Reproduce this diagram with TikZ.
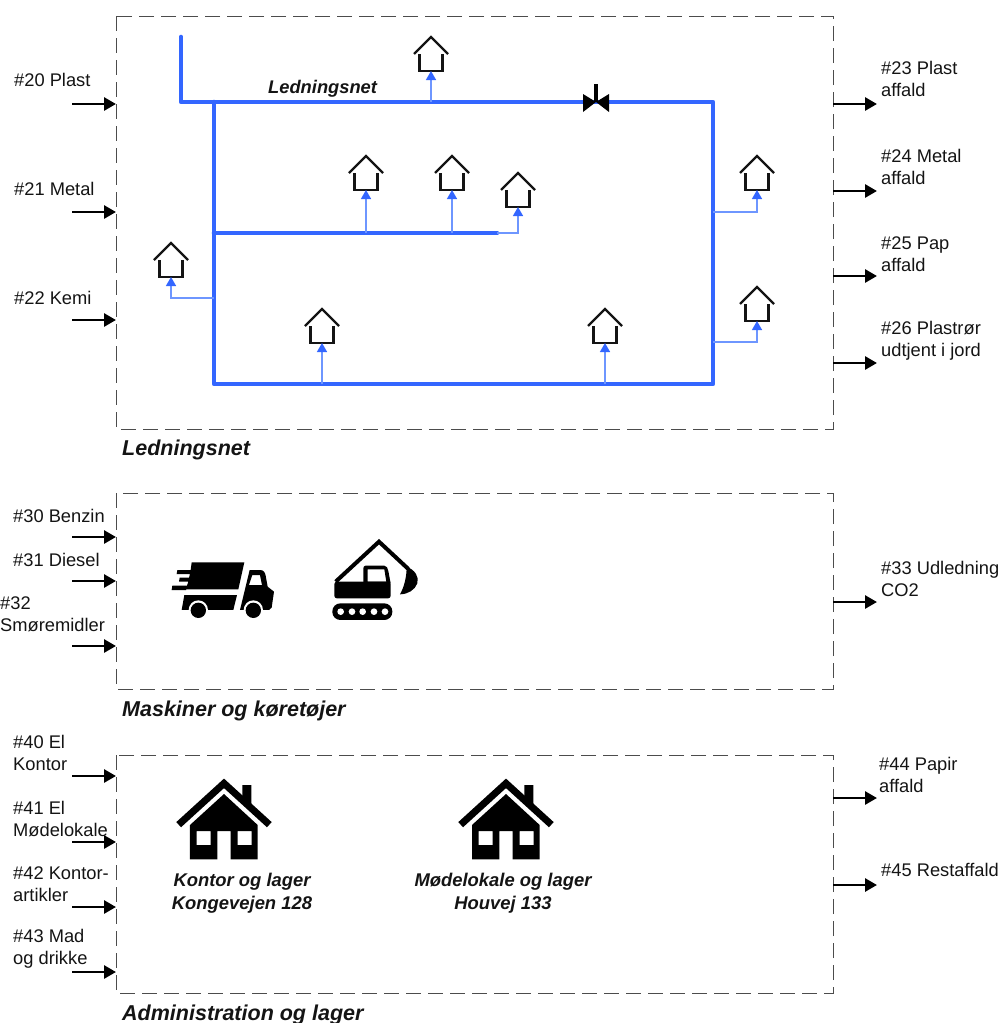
\documentclass[tikz,border=0pt]{standalone}
\usepackage{fontspec}
\setmainfont{Liberation Sans}
\usetikzlibrary{arrows.meta,calc}
\definecolor{pipeblue}{RGB}{51,102,255}
\definecolor{tapblue}{RGB}{110,150,255}
\definecolor{inkc}{RGB}{20,20,20}
\tikzset{
  pipe/.style={draw=pipeblue,line width=4.6pt,line cap=round,line join=round},
  tap/.style={draw=tapblue,line width=1.4pt,-{Triangle[length=9pt,width=10pt,color=pipeblue]}},
  flow/.style={draw=black,line width=2.8pt,-{Triangle[length=12pt,width=13pt]}},
  area/.style={draw=black!70,line width=1pt,dash pattern=on 15pt off 7pt},
  lbl/.style={anchor=west,align=left,inner sep=0pt,font=\fontsize{18.3}{22}\selectfont,text=inkc},
  title/.style={anchor=west,inner sep=0pt,font=\fontsize{21.5}{24}\selectfont\bfseries\itshape,text=inkc},
  captxt/.style={align=center,inner sep=0pt,font=\fontsize{18.4}{23}\selectfont\bfseries\itshape,text=inkc},
  hut/.style={draw=inkc,line width=2.2pt,line join=miter}
}
\newcommand{\hutat}[3]{%
  \coordinate (#1) at (#2,#3);
  \draw[hut] ($(#1)+(-11.5,-17)$) -- ($(#1)+(-11.5,0)$) -- ($(#1)+(11.5,0)$) -- ($(#1)+(11.5,-17)$);
  \draw[hut] ($(#1)+(-17,-17)$) -- ($(#1)+(0,-34)$) -- ($(#1)+(17,-17)$);
}
\newcommand{\bighouse}[1]{%
  \begin{scope}[shift={(#1,770)},x=0.3333pt,y=-0.3333pt]
    \draw[black,line width=7pt,miter limit=10] (56,164) -- (192,40) -- (328,164);
    \fill[black] (247,45) -- (274,45) -- (274,105) -- (247,80) -- cycle;
    \fill[black,even odd rule] (90,165) -- (192,72) -- (293,165) -- (293,268) -- (212,268) -- (212,183) -- (172,183) -- (172,268) -- (90,268) -- cycle
       (110,183) rectangle (152,225) (233,183) rectangle (275,225);
  \end{scope}}
\begin{document}
\begin{tikzpicture}[x=1pt,y=-1pt]
\useasboundingbox (0,0) rectangle (1003,1023);
% areas
\coordinate (A1) at (116,16); \coordinate (B1) at (833,429);
\coordinate (A2) at (116,493); \coordinate (B2) at (833,689);
\coordinate (A3) at (116,755); \coordinate (B3) at (833,993);
\draw[area] (A1) rectangle (B1);
\draw[area] (A2) rectangle (B2);
\draw[area] (A3) rectangle (B3);
% pipes
\coordinate (p0) at (181,37); \coordinate (p1) at (181,102); \coordinate (p2) at (713,102);
\coordinate (p3) at (713,384); \coordinate (p4) at (214,384); \coordinate (p5) at (214,102);
\coordinate (p6) at (214,233); \coordinate (p7) at (497,233);
\draw[pipe] (p0) -- (p1) -- (p2) -- (p3) -- (p4) -- (p5);
\draw[pipe] (p6) -- (p7);
% valve
\coordinate (v) at (596,102);
\fill[black] (583,94) -- (v) -- (583,112) -- cycle (609,94) -- (v) -- (609,112) -- cycle;
\draw[black,line width=3.6pt] (v) -- (596,84);
% houses
\hutat{h1}{431}{71}
\hutat{h2}{366}{190}
\hutat{h3}{452}{190}
\hutat{h4}{518}{207}
\hutat{h5}{757}{190}
\hutat{h6}{757}{321}
\hutat{h7}{171}{277}
\hutat{h8}{322}{343}
\hutat{h9}{605}{343}
% taps
\coordinate (t1) at (431,102); \coordinate (t2) at (366,233); \coordinate (t3) at (452,233);
\coordinate (t4) at (497,233); \coordinate (t5) at (713,212); \coordinate (t6) at (713,342);
\coordinate (t7) at (214,298); \coordinate (t8) at (322,384); \coordinate (t9) at (605,384);
\draw[tap] (t1) -- (h1);
\draw[tap] (t2) -- (h2);
\draw[tap] (t3) -- (h3);
\draw[tap] (t4) -| (h4);
\draw[tap] (t5) -| (h5);
\draw[tap] (t6) -| (h6);
\draw[tap] (t7) -| (h7);
\draw[tap] (t8) -- (h8);
\draw[tap] (t9) -- (h9);
% flows
\foreach \i/\y in {20/104,21/212,22/320,30/537,31/581,32/646,40/776,41/842,42/907,43/972}{
  \coordinate (in\i) at (72,\y); \coordinate (ie\i) at (116,\y);
  \draw[flow] (in\i) -- (ie\i);
}
\foreach \i/\y in {23/104,24/191,25/276,26/363,33/602,44/798,45/885}{
  \coordinate (os\i) at (833,\y); \coordinate (ot\i) at (877,\y);
  \draw[flow] (os\i) -- (ot\i);
}
% labels left
\node[lbl] (l20) at (14,80) {\#20 Plast};
\node[lbl] (l21) at (14,189) {\#21 Metal};
\node[lbl] (l22) at (14,297.5) {\#22 Kemi};
\node[lbl] (l30) at (13,516) {\#30 Benzin};
\node[lbl] (l31) at (13,560) {\#31 Diesel};
\node[lbl] (l32) at (0,614) {\#32\\Smøremidler};
\node[lbl] (l40) at (13,753) {\#40 El\\Kontor};
\node[lbl] (l41) at (13,819) {\#41 El\\Mødelokale};
\node[lbl] (l42) at (13,884) {\#42 Kontor-\\artikler};
\node[lbl] (l43) at (13,949) {\#43 Mad\\og drikke};
% labels right
\node[lbl] (l23) at (881,79) {\#23 Plast\\affald};
\node[lbl] (l24) at (881,167) {\#24 Metal\\affald};
\node[lbl] (l25) at (881,254) {\#25 Pap\\affald};
\node[lbl] (l26) at (881,341) {\#26 Plastrør\\udtjent i jord};
\node[lbl] (l33) at (881,579) {\#33 Udledning\\CO2};
\node[lbl] (l44) at (879,775) {\#44 Papir\\affald};
\node[lbl] (l45) at (881,870) {\#45 Restaffald};
% titles
\node[title] (n1) at (122,450) {Ledningsnet};
\node[title] (n2) at (122,710.5) {Maskiner og køretøjer};
\node[title] (n3) at (122,1014.5) {Administration og lager};
\node[anchor=west,inner sep=0pt,font=\fontsize{18.3}{22}\selectfont\bfseries\itshape,text=inkc] (n4) at (268,88.5) {Ledningsnet};
\node[captxt] (c1) at (242,893.5) {Kontor og lager\\Kongevejen 128};
\node[captxt] (c2) at (503,893.5) {Mødelokale og lager\\Houvej 133};
% big houses
\bighouse{160}
\bighouse{442}
% truck
\begin{scope}[shift={(165,555)},x=0.3333pt,y=-0.3333pt]
  \fill[black] (80,22) -- (238,22) -- (220,103) -- (63,103) -- (66,92) -- (22,92) -- (20,105) -- (63,105) -- (66,92) -- (70,80) -- (42,80) -- (44,68) -- (72,68) -- (75,57) -- (35,57) -- (37,45) -- (77,45) -- cycle;
  \fill[black] (58,120) -- (216,120) -- (205,165) -- (50,165) -- cycle;
  \fill[black,even odd rule] (254,45) -- (285,45) .. controls (296,45) and (300,52) .. (302,62) -- (308,95) -- (327,110) -- (320,158) -- (312,165) -- (225,165) -- cycle
    (262,60) -- (285,60) -- (291,90) -- (252,90) -- cycle;
  \fill[white] (100,165) circle (29);
  \fill[white] (265,165) circle (29);
  \fill[white] (40,166) rectangle (340,200);
  \fill[black] (100,166) circle (23);
  \fill[black] (265,166) circle (23);
\end{scope}
% excavator
\begin{scope}[shift={(325,535)},x=0.3333pt,y=-0.3333pt]
  \draw[black,line width=4pt,line join=miter] (32,140) -- (162,20) -- (250,102);
  \fill[black] (245,95) .. controls (270,105) and (283,125) .. (277,145) .. controls (270,165) and (248,178) .. (225,178) .. controls (238,155) and (245,125) .. (245,95) -- cycle;
  \fill[black,rounded corners=2.5pt] (28,140) -- (197,140) -- (197,190) -- (28,190) -- cycle;
  \fill[black,even odd rule] (122,92) -- (178,92) .. controls (186,92) and (188,100) .. (190,108) -- (197,145) -- (115,145) -- (115,100) .. controls (115,95) and (118,92) .. (122,92) -- cycle
     (128,103) -- (178,103) -- (184,140) -- (128,140) -- cycle;
  \fill[black,rounded corners=8pt] (22,205) rectangle (202,255);
  \foreach \cx in {47,81,113,147,180}{\fill[white] (\cx,230) circle (10);}
\end{scope}
\end{tikzpicture}
\end{document}
